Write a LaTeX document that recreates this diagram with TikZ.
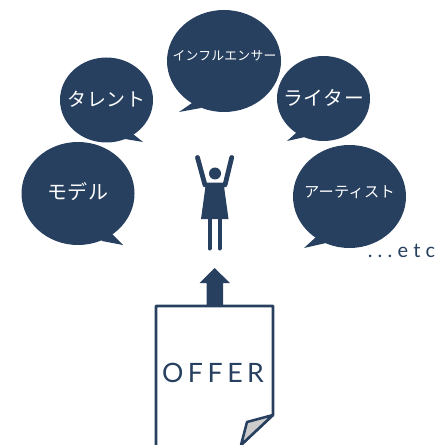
\documentclass[tikz,border=0pt]{standalone}
\usepackage{fontspec}
\newfontfamily\jpa[LetterSpace=4]{Noto Sans CJK JP}
\newfontfamily\jpb[LetterSpace=2]{Noto Sans CJK JP}
\newfontfamily\latoa[LetterSpace=17]{Lato}
\newfontfamily\latob[LetterSpace=26]{Lato}
\definecolor{navy}{HTML}{274060}
\tikzset{x=0.75pt,y=-0.75pt,
  bubble/.style={fill=navy,draw=none},
  bubbletext/.style={text=white,inner sep=0pt,anchor=center},
  limb/.style={draw=navy,line cap=round},
  sheet/.style={draw=navy,line width=1.9pt,line join=round}}
\begin{document}
\begin{tikzpicture}
\useasboundingbox (0,0) rectangle (436,445);
% bubbles
\fill[bubble] (78,193.5) ellipse [x radius=56.5,y radius=51.5];
\fill[bubble] (100,238) -- (112,234) -- (123,245) -- (102,241) -- cycle;
\fill[bubble] (106.5,100) ellipse [x radius=46.5,y radius=42.5];
\fill[bubble] (125,135) -- (133,134) -- (143,142) -- (125,139) -- cycle;
\fill[bubble] (224,61) ellipse [x radius=57,y radius=51];
\fill[bubble] (195,95) -- (192,103) -- (179,112) -- (201,108) -- cycle;
\fill[bubble] (323.5,98.5) ellipse [x radius=46.5,y radius=42.5];
\fill[bubble] (303,130) -- (296,133) -- (287,141) -- (305,137) -- cycle;
\fill[bubble] (349.5,196.5) ellipse [x radius=56.5,y radius=51.5];
\fill[bubble] (322,235) -- (316,237) -- (304,248) -- (326,243) -- cycle;
% bubble labels
\node[bubbletext] (model) at (78,192) {\fontsize{15pt}{16pt}\jpa モデル};
\node[bubbletext] (talent) at (106.5,99) {\fontsize{14.2pt}{15pt}\jpa タレント};
\node[bubbletext] (influencer) at (224.5,55.5) {\fontsize{9.6pt}{10pt}\jpb インフルエンサー};
\node[bubbletext] (writer) at (323.5,97.5) {\fontsize{14.8pt}{16pt}\jpa ライター};
\node[bubbletext] (artist) at (349.5,192) {\fontsize{11.4pt}{12pt}\jpb アーティスト};
\node[text=navy,inner sep=0pt,anchor=base] (etc) at (401.5,257) {\fontsize{15pt}{16pt}\latob ...etc};
% person
\fill[navy] (215,173.5) circle [radius=6];
\draw[limb,line width=3.6pt] (197.5,157.5) -- (205,185);
\draw[limb,line width=3.6pt] (231.7,157.5) -- (225,185);
\fill[navy] (206,182.7) -- (223.5,182.7) -- (228.5,219) -- (201,219) -- cycle;
\draw[limb,line width=3pt] (209.5,218) -- (209.5,248.5);
\draw[limb,line width=3pt] (219.5,218) -- (219.5,248.5);
% arrow
\fill[navy] (206.5,306) -- (206.5,283) -- (199.5,283) -- (214.5,268) -- (230,283) -- (223,283) -- (223,306) -- cycle;
% sheet
\draw[sheet] (156,445) -- (156,306) -- (273,306) -- (273,415) -- (241,445);
\draw[sheet,fill=black!20] (273,415) -- (247,422) -- (241,445) -- cycle;
\node[text=navy,inner sep=0pt,anchor=base] (offer) at (213,382) {\fontsize{20pt}{22pt}\latoa OFFER};
\end{tikzpicture}
\end{document}
